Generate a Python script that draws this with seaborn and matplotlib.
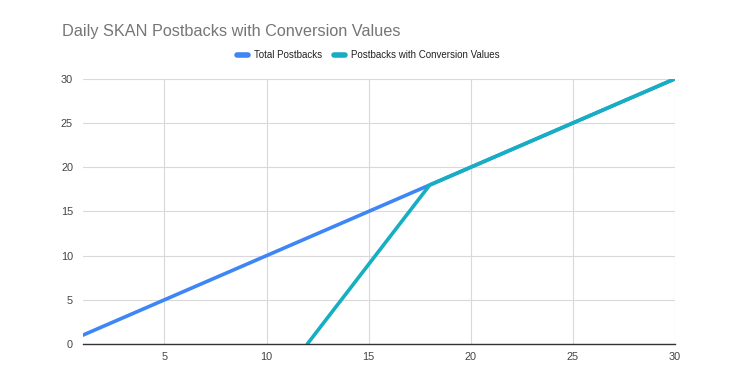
# plot.py

import numpy as np
import pandas as pd
import matplotlib.pyplot as plt
import seaborn as sns

# DATA
days = list(range(1, 31))
total_postbacks = [1, 2, 3, 4, 5, 6, 7, 8, 9, 10, 11, 12, 13, 14, 15,
                   16, 17, 18, 19, 20, 21, 22, 23, 24, 25, 26, 27, 28, 29, 30]
conv_postbacks = [np.nan] * 11 + [0, 3, 6, 9, 12, 15, 18, 19, 20, 21, 22,
                                  23, 24, 25, 26, 27, 28, 29, 30]
series_names = ['Total Postbacks', 'Postbacks with Conversion Values']
colors = ['#3e86f5', '#16afc2']

data = pd.DataFrame({
    'day': days * 2,
    'value': total_postbacks + conv_postbacks,
    'series': [series_names[0]] * 30 + [series_names[1]] * 30,
})

sns.set_style('white')
plt.rcParams['font.family'] = ['Liberation Sans', 'DejaVu Sans']

fig = plt.figure(figsize=(7.53, 3.85), dpi=100)
ax = fig.add_axes([0.110, 0.1065, 0.786, 0.6885])

sns.lineplot(
    data=data,
    x='day',
    y='value',
    hue='series',
    palette=colors,
    linewidth=2.6,
    legend=False,
    ax=ax
)

ax.set_xlim(1, 30)
ax.set_ylim(0, 30)
ax.set_xticks([5, 10, 15, 20, 25, 30])
ax.set_yticks([0, 5, 10, 15, 20, 25, 30])
ax.grid(True, color='#d9d9d9', linewidth=0.8)
ax.set_axisbelow(True)
for side in ['top', 'right', 'left']:
    ax.spines[side].set_visible(False)
ax.spines['bottom'].set_color('#333333')
ax.spines['bottom'].set_linewidth(1.0)
ax.spines['bottom'].set_zorder(5)
ax.tick_params(axis='both', length=0, labelsize=7.8, labelcolor='#444444')
ax.tick_params(axis='x', pad=6)
ax.tick_params(axis='y', pad=7)
ax.set_xlabel('')
ax.set_ylabel('')

# TITLE AND LEGEND
fig.text(0.083, 0.918, 'Daily SKAN Postbacks with Conversion Values',
         fontsize=11.7, color='#757575', va='center', ha='left')

handles = [plt.Line2D([], [], color=c, linewidth=4, solid_capstyle='round') for c in colors]
fig.legend(handles, series_names, loc='center', bbox_to_anchor=(0.489, 0.857),
           ncol=2, frameon=False, fontsize=7, handlelength=1.2,
           handletextpad=0.6, columnspacing=1.2, labelcolor='#222222')

plt.savefig('out.png', dpi=100)
